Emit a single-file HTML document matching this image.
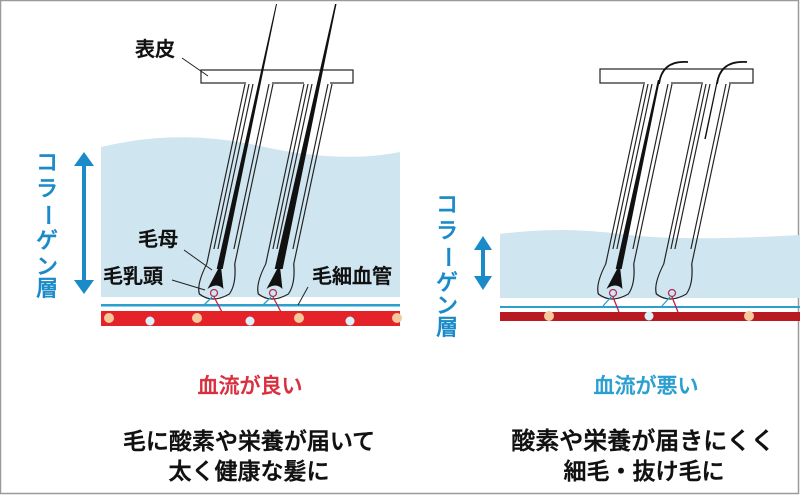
<!DOCTYPE html>
<html><head><meta charset="utf-8"><style>
html,body{margin:0;padding:0;background:#fff}
svg{display:block}
text{font-family:"Liberation Sans","Noto Sans CJK JP",sans-serif;font-weight:500}
.b{stroke:#111;stroke-width:0.5}
.bl{stroke:#1a8ac8;stroke-width:0.4}
</style></head><body>
<svg width="800" height="495" viewBox="0 0 800 495" xmlns="http://www.w3.org/2000/svg">
<rect x="0.5" y="0.5" width="798" height="493" fill="#fff" stroke="#9a9a9a" stroke-width="1.5"/>

<defs>
<g id="fol" fill="none" stroke="#222" stroke-width="1.2">
  <path d="M-14,0 L-14,180 Q-20,200 -15,210 Q0,220 15,210 Q20,200 14,180 L14,0"/>
  <path d="M-10,0 L-10,165"/>
  <path d="M-6,0 L-6,165"/>
  <path d="M10,0 L10,165"/>
</g>
</defs>

<!-- LEFT PANEL -->
<path d="M101,147 Q180,128 260,146 T400,152 L400,297 L101,297 Z" fill="#cfe5f0"/>
<rect x="101" y="304" width="299" height="2.5" fill="#2a9fd0"/>
<rect x="101" y="311" width="299" height="15" fill="#e4222a"/>
<g fill="#f6c99a"><circle cx="109" cy="318" r="5"/><circle cx="197" cy="318" r="5"/><circle cx="299" cy="318" r="5"/><circle cx="397" cy="318" r="5"/></g>
<g fill="#d9f1f8"><circle cx="150" cy="321" r="4.5"/><circle cx="250" cy="321" r="4.5"/><circle cx="350" cy="321" r="4.5"/></g>

<rect x="201" y="70" width="152" height="13" fill="#fff" stroke="#222" stroke-width="1.2"/>
<rect x="246" y="78" width="26" height="8" fill="#fff"/>
<rect x="304" y="78" width="26" height="8" fill="#fff"/>
<g transform="translate(259,84) skewX(-12)"><use href="#fol"/>
  <path d="M0,-80 L1,-80 L3,185 L-3,185 Z" fill="#111"/>
  <path d="M-8,205 L0,180 L8,205 Q0,198 -8,205 Z" fill="#111"/>
</g>
<g transform="translate(318,84) skewX(-12)"><use href="#fol"/>
  <path d="M0,-80 L1.5,-80 L4,185 L-4,185 Z" fill="#111"/>
  <path d="M-8,205 L0,180 L8,205 Q0,198 -8,205 Z" fill="#111"/>
</g>
<g fill="none" stroke-width="1.3">
 <circle cx="214" cy="293" r="3.5" stroke="#b0305a"/><path d="M214,297 L222,312" stroke="#c02040"/><path d="M212,297 L204,305" stroke="#2a9fd0"/>
 <circle cx="273" cy="293" r="3.5" stroke="#b0305a"/><path d="M273,297 L281,312" stroke="#c02040"/><path d="M271,297 L263,305" stroke="#2a9fd0"/>
</g>
<text class="b" x="135" y="56" font-size="20" fill="#111">表皮</text>
<path d="M182,58 L208,76" stroke="#222" stroke-width="1"/>
<text class="b" x="138" y="246" font-size="20" fill="#111">毛母</text>
<path d="M184,250 L212,270" stroke="#222" stroke-width="1"/>
<text class="b" x="103" y="283" font-size="20" fill="#111">毛乳頭</text>
<path d="M172,280 L205,290" stroke="#222" stroke-width="1"/>
<text class="b" x="312" y="283" font-size="20" fill="#111">毛細血管</text>
<path d="M308,287 L298,305" stroke="#222" stroke-width="1"/>

<g class="bl">
<text font-size="22" fill="#1a8ac8" x="36" y="170">コ</text>
<text font-size="22" fill="#1a8ac8" x="36" y="196">ラ</text>
<text font-size="22" fill="#1a8ac8" x="36" y="222" transform="rotate(90 47 215)">ー</text>
<text font-size="22" fill="#1a8ac8" x="36" y="248">ゲ</text>
<text font-size="22" fill="#1a8ac8" x="36" y="274">ン</text>
<text font-size="22" fill="#1a8ac8" x="36" y="296">層</text>
</g>
<path d="M84,160 L84,284" stroke="#1a8ac8" stroke-width="4"/>
<path d="M74,166 L84,152 L94,166 Z M74,280 L84,294 L94,280 Z" fill="#1a8ac8"/>

<!-- RIGHT PANEL -->
<path d="M500,234 Q560,226 620,234 T800,235 L800,298 L500,298 Z" fill="#cfe5f0"/>
<rect x="500" y="306" width="300" height="2" fill="#2a9fd0"/>
<rect x="500" y="312" width="300" height="9" fill="#b81a22"/>
<g fill="#f6c99a"><circle cx="549" cy="316" r="5"/><circle cx="749" cy="316" r="5"/></g>
<circle cx="649" cy="316" r="4.5" fill="#d9f1f8"/>

<rect x="600" y="69" width="153" height="14" fill="#fff" stroke="#222" stroke-width="1.2"/>
<rect x="645" y="78" width="26" height="8" fill="#fff"/>
<rect x="703" y="78" width="26" height="8" fill="#fff"/>
<g transform="translate(658,84) skewX(-12)"><use href="#fol"/>
  <path d="M-1,-4 L1,-4 L3,185 L-3,185 Z" fill="#111"/>
  <path d="M-8,205 L0,180 L8,205 Q0,198 -8,205 Z" fill="#111"/>
</g>
<g transform="translate(716,84) skewX(-12)"><use href="#fol"/>
  <path d="M0,-4 L1.2,-4 L1.5,55 L0,55 Z" fill="#111"/>
</g>
<path d="M659,84 Q662,60 688,62" fill="none" stroke="#111" stroke-width="1.8"/>
<path d="M717,84 Q720,60 747,62" fill="none" stroke="#111" stroke-width="1.8"/>
<g fill="none" stroke-width="1.3">
 <circle cx="613" cy="293" r="3.5" stroke="#b0305a"/><path d="M613,297 L619,312" stroke="#c02040"/><path d="M611,297 L603,306" stroke="#2a9fd0"/>
 <circle cx="672" cy="293" r="3.5" stroke="#b0305a"/><path d="M672,297 L678,312" stroke="#c02040"/><path d="M670,297 L662,306" stroke="#2a9fd0"/>
</g>

<g class="bl">
<text font-size="22" fill="#1a8ac8" x="436" y="212">コ</text>
<text font-size="22" fill="#1a8ac8" x="436" y="238">ラ</text>
<text font-size="22" fill="#1a8ac8" x="436" y="264" transform="rotate(90 447 257)">ー</text>
<text font-size="22" fill="#1a8ac8" x="436" y="290">ゲ</text>
<text font-size="22" fill="#1a8ac8" x="436" y="313">ン</text>
<text font-size="22" fill="#1a8ac8" x="436" y="335">層</text>
</g>
<path d="M483,244 L483,282" stroke="#1a8ac8" stroke-width="4"/>
<path d="M474,250 L483,236 L492,250 Z M474,276 L483,290 L492,276 Z" fill="#1a8ac8"/>

<!-- captions -->
<text x="250" y="393" font-size="21" fill="#d9303f" stroke="#d9303f" stroke-width="0.4" text-anchor="middle">血流が良い</text>
<text class="b" x="249" y="449" font-size="23" fill="#111" text-anchor="middle">毛に酸素や栄養が届いて</text>
<text class="b" x="249" y="479" font-size="23" fill="#111" text-anchor="middle">太く健康な髪に</text>
<text x="646" y="393" font-size="21" fill="#2a9fd0" stroke="#2a9fd0" stroke-width="0.4" text-anchor="middle">血流が悪い</text>
<text class="b" x="643" y="449" font-size="24" fill="#111" text-anchor="middle">酸素や栄養が届きにくく</text>
<text class="b" x="644" y="479" font-size="23" fill="#111" text-anchor="middle">細毛・抜け毛に</text>
</svg>
</body></html>
